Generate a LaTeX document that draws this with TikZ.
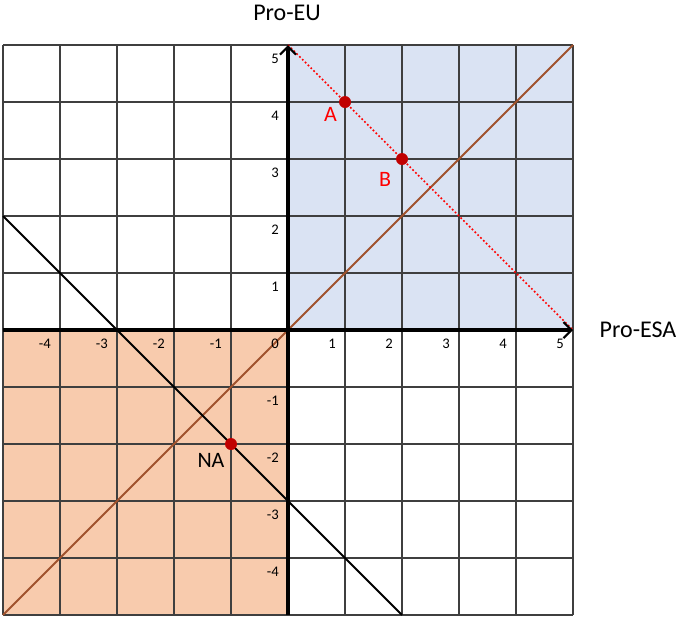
\documentclass[tikz,border=0pt]{standalone}
\usepackage{fontspec}
\setmainfont{Carlito}
\usetikzlibrary{arrows.meta}
\definecolor{gridc}{HTML}{3F3F3F}
\definecolor{bluef}{HTML}{DAE3F3}
\definecolor{orangef}{HTML}{F8CBAD}
\definecolor{brownl}{HTML}{A0522D}
\definecolor{ptred}{HTML}{C00000}
\definecolor{lblred}{HTML}{FF0000}
\begin{document}
\begin{tikzpicture}[x=0.75pt,y=-0.75pt,
  gridln/.style={draw=gridc,line width=1.1pt},
  axisln/.style={draw=black,line width=2.6pt,-{Straight Barb[length=6pt,width=12pt,line width=1.6pt]}},
  diagln/.style={line width=1.5pt},
  tick/.style={font=\fontsize{11}{12}\selectfont,inner sep=0pt,anchor=east},
  title/.style={font=\fontsize{18}{20}\selectfont,inner sep=0pt},
  ptlbl/.style={font=\fontsize{16.5}{18}\selectfont,inner sep=0pt,text=lblred},
  dot/.style={circle,fill=ptred,inner sep=0pt,minimum size=9pt}]
\useasboundingbox (0,0) rectangle (678,619);
\fill[bluef] (288,45) rectangle (573,330);
\fill[orangef] (3,330) rectangle (288,615);
\foreach \i in {0,...,10} {
  \draw[gridln] (3+57*\i,45) -- (3+57*\i,615);
  \draw[gridln] (3,45+57*\i) -- (573,45+57*\i);
}
% diagonals
\coordinate (bl) at (3,615);
\coordinate (tr) at (573,45);
\coordinate (nl) at (-5*57+288,216);
\coordinate (nb) at (402,615);
\coordinate (yt) at (288,45);
\coordinate (xr) at (573,330);
\coordinate (yb) at (288,615);
\coordinate (xl) at (3,330);
\draw[diagln,brownl] (bl) -- (tr);
\draw[diagln,black] (nl) -- (nb);
\draw[line width=1.3pt,lblred,dash pattern=on 1.3pt off 1.7pt] (yt) -- (xr);
% axes
\draw[axisln] (yb) -- (yt);
\draw[axisln] (xl) -- (xr);
% tick labels
\foreach \k in {-4,-3,-2,-1,1,2,3,4,5}
  \node[tick] (xt\k) at (288+57*\k-9,344) {\k};
\foreach \k in {-4,-3,-2,-1,1,2,3,4,5}
  \node[tick] (yt\k) at (279,330-57*\k+14) {\k};
\node[tick] (zero) at (279,344) {0};
% titles
\node[title] (peu) at (287,13) {Pro-EU};
\node[title] (pesa) at (638,330) {Pro-ESA};
% points
\node[dot] (A) at (345,102) {};
\node[dot] (B) at (402,159) {};
\node[dot] (NA) at (231,444) {};
\node[ptlbl] (Al) at (330.5,114.5) {A};
\node[ptlbl] (Bl) at (385,179) {B};
\node[ptlbl,text=black] (NAl) at (211,460.5) {NA};
\end{tikzpicture}
\end{document}
